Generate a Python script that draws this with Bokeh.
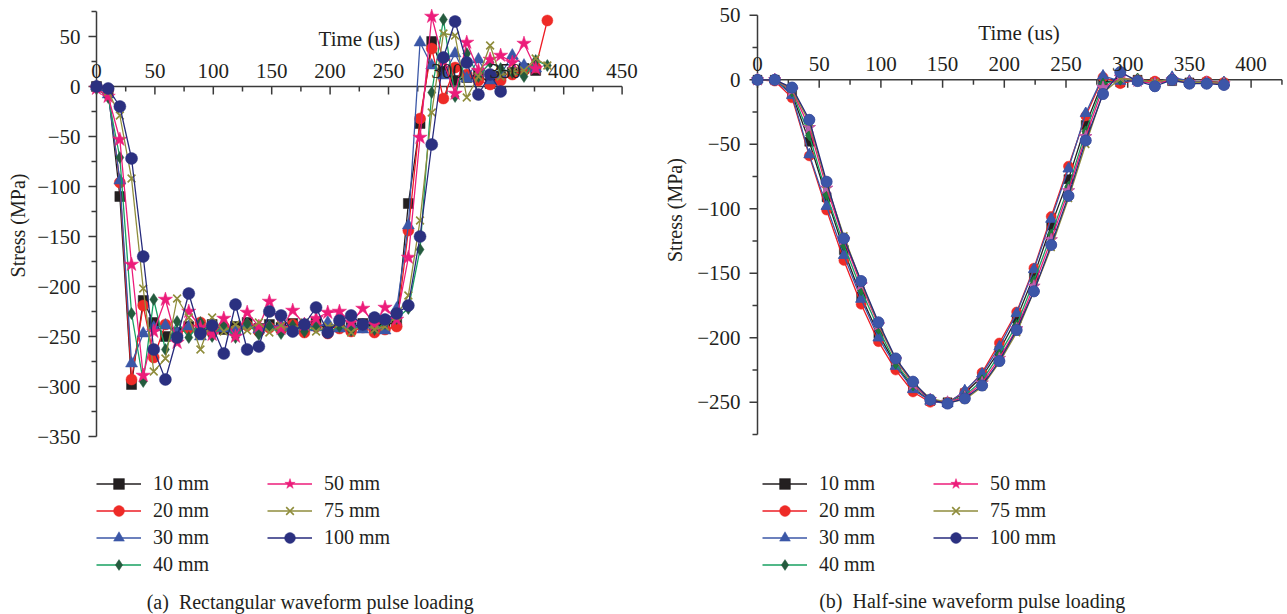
import numpy as np
from bokeh.plotting import figure
from bokeh.layouts import row
from bokeh.models import Legend, LegendItem, LabelSet, Label, ColumnDataSource, Range1d
from bokeh.embed import file_html
from bokeh.resources import INLINE

# ---------------- data ----------------
SERIES = ["10 mm", "20 mm", "30 mm", "40 mm", "50 mm", "75 mm", "100 mm"]
MARKERS = ["square", "circle", "triangle", "diamond", "star", "x", "circle"]

# (a) rectangular waveform pulse loading
TIME_A = [0, 10, 20, 30, 40, 49, 59, 69, 79, 89, 99, 109, 119, 129, 139, 148, 158, 168, 178, 188,
          198, 208, 218, 228, 238, 247, 257, 267, 277, 287, 297, 307, 317, 327, 337, 346, 356, 366, 376, 386]
RECT_10 = [0, -4, -110, -298, -214, -236, -250, -246, -240, -245, -238, -243, -240, -236, -242, -238, -241, -237, -240, -236,
           -243, -239, -241, -237, -240, -238, -236, -117, -37, 45, 15, 6, 9, 12, 3, 10, 14, 18, 16]
RECT_20 = [0, -3, -96, -293, -219, -271, -238, -248, -242, -236, -246, -240, -244, -239, -245, -241, -243, -238, -246, -240,
           -247, -242, -245, -241, -246, -243, -240, -144, -32, 38, -12, 19, 12, 6, 2, 6, 12, 16, 19, 66]
RECT_30 = [0, -8, -94, -277, -247, -241, -239, -246, -240, -250, -238, -242, -245, -238, -243, -240, -239, -244, -238, -241,
           -236, -242, -238, -243, -239, -244, -222, -139, 44, 21, 11, 33, 8, 27, 6, 12, 31, 21, 18]
RECT_40 = [-2, -11, -71, -227, -295, -213, -263, -235, -251, -236, -250, -238, -251, -237, -248, -240, -247, -239, -245, -241,
           -246, -240, -244, -238, -243, -237, -232, -222, -163, -6, 67, -10, 33, 10, 24, 18, 14, 10, 26, 21]
RECT_50 = [-2, -10, -53, -178, -289, -245, -213, -256, -225, -241, -248, -232, -250, -226, -240, -215, -242, -224, -238, -232,
           -226, -225, -236, -222, -238, -221, -233, -171, -51, 70, 25, -7, 44, 16, 27, 31, 24, 43, 18]
RECT_75 = [0, -5, -29, -92, -202, -285, -272, -212, -231, -263, -231, -245, -238, -244, -236, -246, -239, -243, -236, -245,
           -240, -237, -246, -238, -243, -240, -230, -209, -134, -26, 53, 51, -11, 10, 41, 10, 15, 16, 28, 21]
RECT_100 = [0, -2, -20, -72, -170, -263, -293, -251, -207, -247, -239, -267, -218, -263, -260, -225, -229, -245, -238, -221,
            -246, -234, -229, -238, -231, -233, -227, -219, -150, -58, 29, 65, 24, -8, 12, -5]
RECT = [RECT_10, RECT_20, RECT_30, RECT_40, RECT_50, RECT_75, RECT_100]

# (b) half-sine waveform pulse loading
TIME_B = [0, 14, 28, 42, 56, 70, 84, 98, 112, 126, 140, 154, 168, 182, 196, 210, 224, 238, 252, 266,
          280, 294, 308, 322, 336, 350, 364, 378]
SINE_10 = [0, 0, -11, -48, -91, -132, -168, -197, -221, -239, -249, -250, -243, -230, -210, -185, -152, -113, -77, -35,
           -1, -2, 0, -2, -1, -2, -2, -3]
SINE_20 = [0, -1, -14, -59, -101, -140, -174, -203, -225, -242, -250, -250, -242, -227, -204, -180, -146, -106, -67, -28,
           2, -3, 0, -1, 0, -2, -1, -2]
SINE_30 = [0, 0, -12, -58, -98, -136, -170, -200, -222, -240, -249, -251, -241, -228, -207, -181, -147, -108, -69, -26,
           3, -1, -1, -3, 2, -1, -2, -2]
SINE_40 = [0, 0, -9, -43, -89, -128, -163, -193, -220, -237, -248, -250, -245, -233, -213, -190, -156, -120, -83, -40,
           -3, 0, 1, -3, 0, -2, -2, -2]
SINE_50 = [0, 0, -8, -37, -84, -124, -159, -190, -217, -236, -248, -250, -246, -235, -216, -193, -160, -124, -86, -44,
           -6, 2, -1, -3, 0, -2, -2, -3]
SINE_75 = [0, 0, -7, -33, -81, -121, -157, -189, -217, -235, -247, -250, -248, -238, -219, -196, -164, -130, -92, -50,
           -10, 1, 0, -2, 1, -2, -2, -3]
SINE_100 = [0, 0, -6, -31, -79, -123, -156, -188, -216, -234, -248, -251, -247, -237, -218, -194, -164, -128, -90, -47,
            -11, 6, -1, -5, 0, -3, -3, -4]
SINE = [SINE_10, SINE_20, SINE_30, SINE_40, SINE_50, SINE_75, SINE_100]

# ticks
XA_MAJOR = [0, 50, 100, 150, 200, 250, 300, 350, 400, 450]
XA_LABELS = ["0", "50", "100", "150", "200", "250", "300", "350", "400", "450"]
XA_MINOR = [25, 75, 125, 175, 225, 275, 325, 375, 425]
YA_MAJOR = [-350, -300, -250, -200, -150, -100, -50, 0, 50]
YA_LABELS = ["\u2212350", "\u2212300", "\u2212250", "\u2212200", "\u2212150", "\u2212100", "\u221250", "0", "50"]
YA_MINOR = [-325, -275, -225, -175, -125, -75, -25, 25, 75]

XB_MAJOR = [0, 50, 100, 150, 200, 250, 300, 350, 400]
XB_LABELS = ["0", "50", "100", "150", "200", "250", "300", "350", "400"]
XB_MINOR = [25, 75, 125, 175, 225, 275, 325, 375, 425]
YB_MAJOR = [-250, -200, -150, -100, -50, 0, 50]
YB_LABELS = ["\u2212250", "\u2212200", "\u2212150", "\u2212100", "\u221250", "0", "50"]
YB_MINOR = [-275, -225, -175, -125, -75, -25, 25]

X_TITLE = "Time (us)"
Y_TITLE = "Stress (MPa)"
CAPTION_A = "(a)\u2002Rectangular waveform pulse loading"
CAPTION_B = "(b)\u2002Half-sine waveform pulse loading"

# ---------------- styles ----------------
FONT = "Liberation Serif"
INK = "#231f20"
AXIS = "#3a3a3a"
LEG_LINE = ["#231f20", "#ed1c24", "#3b57a7", "#17a061", "#ec1c7a", "#8f8d3c", "#262a7c"]
LEG_FILL = ["#231f20", "#ee2b27", "#3b57a7", "#245b3e", "#ec1c7a", "#8f8d3c", "#2b3080"]
B_FILL = ["#231f20", "#ee2b27", "#3c57a8", "#1f7a3d", "#b862b0", "#8f8d3c", "#3c56a8"]
SIZE_A = [10, 11, 12, 12, 15, 11, 12]
SIZE_B = [9, 10, 11, 11, 13, 10, 11]
H = 614


def make_fig(width, origin_x, origin_y, px_x, px_y):
    """frame covers the whole canvas; origin_* = pixel position of data (0,0)."""
    xr = Range1d(-origin_x / px_x, (width - origin_x) / px_x)
    yr = Range1d(-(H - origin_y) / px_y, origin_y / px_y)
    p = figure(width=width, height=H, x_range=xr, y_range=yr,
               x_axis_location=None, y_axis_location=None,
               output_backend="svg", toolbar_location=None,
               min_border_left=0, min_border_right=0, min_border_top=0, min_border_bottom=0)
    p.outline_line_color = None
    p.grid.visible = False
    p.background_fill_color = "white"
    p.border_fill_color = "white"
    return p


def draw_axes(p, xmaj, xlab, xmin, ymaj, ylab, ymin, xtitle_pos, ytitle_pos, ylab_off):
    x_end = max(xmaj + xmin)
    y_lo, y_hi = min(ymaj + ymin), max(ymaj + ymin)
    p.segment(x0=[0, 0], y0=[0, y_lo], x1=[x_end, 0], y1=[0, y_hi], line_color=AXIS, line_width=1.5)
    p.ray(x=xmaj, y=[0] * len(xmaj), length=8, length_units="screen", angle=-np.pi / 2,
          line_color=AXIS, line_width=1.5)
    p.ray(x=xmin, y=[0] * len(xmin), length=5, length_units="screen", angle=-np.pi / 2,
          line_color=AXIS, line_width=1.5)
    p.ray(x=[0] * len(ymaj), y=ymaj, length=8, length_units="screen", angle=np.pi,
          line_color=AXIS, line_width=1.5)
    p.ray(x=[0] * len(ymin), y=ymin, length=5, length_units="screen", angle=np.pi,
          line_color=AXIS, line_width=1.5)
    xs = ColumnDataSource(dict(x=xmaj, y=[0] * len(xmaj), t=xlab))
    p.add_layout(LabelSet(x="x", y="y", text="t", source=xs, y_offset=9,
                          text_align="center", text_baseline="alphabetic",
                          text_font=FONT, text_font_size="21px", text_color=INK))
    ys = ColumnDataSource(dict(x=[0] * len(ymaj), y=ymaj, t=ylab))
    p.add_layout(LabelSet(x="x", y="y", text="t", source=ys, x_offset=ylab_off,
                          text_align="right", text_baseline="middle",
                          text_font=FONT, text_font_size="21px", text_color=INK))
    p.add_layout(Label(x=xtitle_pos[0], y=xtitle_pos[1], text=X_TITLE, text_align="center",
                       text_baseline="middle", text_font=FONT, text_font_size="21px",
                       text_color=INK))
    p.add_layout(Label(x=ytitle_pos[0], y=ytitle_pos[1], text=Y_TITLE, angle=np.pi / 2,
                       text_align="center", text_baseline="middle", text_font=FONT,
                       text_font_size="20px", text_color=INK))


def add_series(p, times, data, fills, sizes):
    """draws each series; returns the renderers used by the legend (legend colours)."""
    legend_renderers = []
    for i, vals in enumerate(data):
        xs = times[:len(vals)]
        lr = p.line(xs, vals, line_color=LEG_LINE[i], line_width=1.3)
        kinds = [LEG_FILL[i]] if fills[i] == LEG_FILL[i] else [LEG_FILL[i], fills[i]]
        srs = []
        for c in kinds:
            if MARKERS[i] == "x":
                srs.append(p.scatter(xs, vals, marker="x", size=sizes[i], line_color=c, line_width=1.6))
            else:
                srs.append(p.scatter(xs, vals, marker=MARKERS[i], size=sizes[i], fill_color=c,
                                     line_color=c, line_width=0.5))
        legend_renderers.append([lr, srs[0]])
    return legend_renderers


def add_legend(p, rends, loc):
    items = [LegendItem(label=name, renderers=r) for name, r in zip(SERIES, rends)]
    leg = Legend(items=items, location=loc, nrows=4, orientation="vertical",
                 glyph_width=45, glyph_height=27, label_height=27, label_width=114,
                 label_standoff=12, spacing=0, padding=2, margin=0,
                 label_text_font=FONT, label_text_font_size="20px", label_text_color=INK,
                 label_text_baseline="middle",
                 background_fill_alpha=0, border_line_color=None)
    p.add_layout(leg)


# ---------------- panel (a) ----------------
WA = 655
pa = make_fig(WA, 96, 86, 1.168, 1.0)
draw_axes(pa, XA_MAJOR, XA_LABELS, XA_MINOR, YA_MAJOR, YA_LABELS, YA_MINOR,
          (225, 48), (-67, -139), -16)
ra = add_series(pa, TIME_A, RECT, LEG_FILL, SIZE_A)
add_legend(pa, ra, (96, 36))
pa.add_layout(Label(x=183, y=-515, text=CAPTION_A, text_align="center", text_baseline="middle",
                    text_font=FONT, text_font_size="20px", text_color=INK))

# ---------------- panel (b) ----------------
WB = 1287 - WA
pb = make_fig(WB, 757 - WA, 79.3, 1.234, 1.29)
draw_axes(pb, XB_MAJOR, XB_LABELS, XB_MINOR, YB_MAJOR, YB_LABELS, YB_MINOR,
          (212, 36), (-66.5, -101), -17)
rb = add_series(pb, TIME_B, SINE, B_FILL, SIZE_B)
add_legend(pb, rb, (107, 36))
pb.add_layout(Label(x=174, y=-404, text=CAPTION_B, text_align="center", text_baseline="middle",
                    text_font=FONT, text_font_size="20px", text_color=INK))

layout = row(pa, pb, spacing=0)
open("out.html", "w").write(file_html(layout, INLINE))
